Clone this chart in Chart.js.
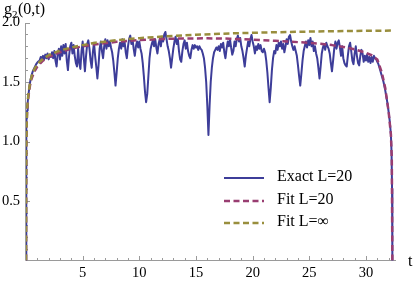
<!DOCTYPE html>
<html>
<head>
<meta charset="utf-8">
<script src="https://cdn.jsdelivr.net/npm/chart.js@4.4.0/dist/chart.umd.min.js"></script>
<style>
  html, body { margin: 0; padding: 0; background: #fff; }
  canvas { display: block; }
</style>
</head>
<body>
<canvas id="grafico" width="416" height="281"></canvas>
<script>
// exact L=20: steep start, noisy middle (t = 1.4 .. 31.0 every 0.1), fall at the end
const tHead = [0, 0.005, 0.01, 0.02, 0.035, 0.06, 0.1, 0.15, 0.2, 0.3, 0.4, 0.5, 0.6, 0.75, 0.9, 1.05, 1.2, 1.3]
const gHead = [0, 0.4, 0.65, 0.85, 1.0, 1.15, 1.26, 1.33, 1.38, 1.46, 1.52, 1.56, 1.59, 1.62, 1.65, 1.67, 1.68, 1.71]

const gMid = [
  1.70, 1.72, 1.69, 1.73, 1.70, 1.74, 1.69, 1.73, 1.71, 1.75,
  1.70, 1.76, 1.68, 1.63, 1.74, 1.78, 1.69, 1.80, 1.72, 1.81,
  1.74, 1.82, 1.68, 1.60, 1.72, 1.80, 1.83, 1.74, 1.81, 1.72,
  1.66, 1.63, 1.78, 1.66, 1.61, 1.76, 1.84, 1.70, 1.59, 1.72,
  1.82, 1.85, 1.78, 1.68, 1.62, 1.75, 1.83, 1.72, 1.63, 1.53,
  1.64, 1.78, 1.84, 1.76, 1.70, 1.80, 1.86, 1.78, 1.85, 1.80,
  1.84, 1.79, 1.75, 1.68, 1.58, 1.47, 1.58, 1.70, 1.78, 1.83,
  1.78, 1.86, 1.80, 1.84, 1.75, 1.70, 1.80, 1.86, 1.89, 1.82,
  1.86, 1.78, 1.72, 1.80, 1.84, 1.79, 1.84, 1.78, 1.74, 1.66,
  1.55, 1.42, 1.33, 1.40, 1.55, 1.70, 1.78, 1.82, 1.85, 1.80,
  1.86, 1.79, 1.74, 1.82, 1.86, 1.80, 1.88, 1.84, 1.90, 1.92,
  1.86, 1.80, 1.76, 1.70, 1.62, 1.70, 1.78, 1.84, 1.88, 1.82,
  1.86, 1.76, 1.69, 1.67, 1.76, 1.82, 1.85, 1.78, 1.83, 1.76,
  1.72, 1.70, 1.77, 1.81, 1.78, 1.81, 1.79, 1.80, 1.77, 1.80,
  1.78, 1.77, 1.74, 1.70, 1.62, 1.50, 1.30, 1.055, 1.30, 1.50,
  1.62, 1.70, 1.75, 1.77, 1.79, 1.77, 1.80, 1.76, 1.82, 1.79,
  1.83, 1.75, 1.70, 1.78, 1.84, 1.80, 1.86, 1.79, 1.73, 1.76,
  1.84, 1.80, 1.86, 1.89, 1.84, 1.87, 1.80, 1.76, 1.70, 1.63,
  1.72, 1.78, 1.84, 1.80, 1.86, 1.895, 1.84, 1.80, 1.74, 1.80,
  1.77, 1.82, 1.78, 1.81, 1.76, 1.75, 1.78, 1.75, 1.68, 1.58,
  1.45, 1.33, 1.45, 1.60, 1.70, 1.76, 1.74, 1.81, 1.77, 1.83,
  1.80, 1.84, 1.78, 1.82, 1.75, 1.80, 1.86, 1.82, 1.88, 1.895,
  1.84, 1.80, 1.77, 1.80, 1.76, 1.72, 1.64, 1.55, 1.47, 1.57,
  1.68, 1.76, 1.80, 1.84, 1.79, 1.85, 1.81, 1.87, 1.80, 1.84,
  1.76, 1.80, 1.74, 1.70, 1.62, 1.53, 1.63, 1.74, 1.79, 1.82,
  1.77, 1.83, 1.80, 1.78, 1.74, 1.66, 1.59, 1.68, 1.78, 1.84,
  1.78, 1.83, 1.85, 1.79, 1.72, 1.80, 1.70, 1.66, 1.64, 1.63,
  1.72, 1.80, 1.83, 1.76, 1.68, 1.65, 1.74, 1.80, 1.72, 1.66,
  1.64, 1.72, 1.77, 1.74, 1.67, 1.72, 1.68, 1.73, 1.67, 1.71,
  1.66, 1.71, 1.67, 1.72, 1.70, 1.69, 1.67
]

const tTail = [31.1, 31.25, 31.4, 31.55, 31.7, 31.85, 32.0, 32.1, 32.2, 32.26, 32.3, 32.33]
const gTail = [1.65, 1.60, 1.55, 1.50, 1.43, 1.35, 1.25, 1.17, 1.06, 0.90, 0.60, 0]

const tFit20 = [0, 0.01, 0.03, 0.06, 0.1, 0.2, 0.35, 0.5, 0.75, 1, 1.5, 2, 3, 4, 5, 6, 8, 10, 12, 14, 16, 18, 20, 22, 24, 26, 27, 28, 29, 30, 30.5, 31, 31.4, 31.7, 32.0, 32.2, 32.28, 32.33]
const gFit20 = [0, 0.6, 0.95, 1.14, 1.25, 1.37, 1.47, 1.53, 1.59, 1.63, 1.68, 1.71, 1.75, 1.78, 1.80, 1.815, 1.838, 1.852, 1.861, 1.866, 1.867, 1.864, 1.856, 1.846, 1.835, 1.822, 1.81, 1.795, 1.775, 1.745, 1.725, 1.69, 1.58, 1.45, 1.25, 1.06, 0.85, 0]

const tFitInf = [0, 0.01, 0.03, 0.06, 0.1, 0.2, 0.35, 0.5, 0.75, 1, 1.5, 2, 3, 4, 5, 6, 8, 10, 12, 15, 18, 21, 24, 27, 30, 32.4]
const gFitInf = [0, 0.62, 0.97, 1.16, 1.27, 1.39, 1.49, 1.55, 1.61, 1.65, 1.695, 1.725, 1.765, 1.79, 1.81, 1.828, 1.852, 1.868, 1.882, 1.897, 1.908, 1.916, 1.922, 1.927, 1.93, 1.932]

const etiquetas = ["Exact L=20", "Fit L=20", "Fit L=\u221e"]
const colores = ["#3d3d99", "#993d71", "#998e3d"]

const tMid = gMid.map((g, i) => Math.round((1.4 + i * 0.1) * 100) / 100)
const tExact = tHead.concat(tMid, tTail)
const gExact = gHead.concat(gMid, gTail)

function puntos(ts, gs) {
  return ts.map((t, i) => ({x: t, y: gs[i]}))
}

const serif = "'Liberation Serif', 'DejaVu Serif', serif"

const ejes = {
  id: "ejes",
  beforeDatasetsDraw(chart) {
    const {ctx, scales: {x, y}} = chart
    const x0 = Math.round(x.getPixelForValue(0)) - 0.5
    const y0 = Math.round(y.getPixelForValue(0)) - 0.5
    ctx.save()
    ctx.strokeStyle = "#9a9a9a"
    ctx.lineWidth = 1
    ctx.beginPath()
    ctx.moveTo(x0, y0)
    ctx.lineTo(x.right, y0)
    ctx.moveTo(x0, y0)
    ctx.lineTo(x0, Math.round(y.getPixelForValue(2)))
    for (let t = 1; t <= 32; t++) {
      const px = Math.round(x.getPixelForValue(t)) + 0.5
      const len = t % 5 === 0 ? 4.5 : 2.5
      ctx.moveTo(px, y0)
      ctx.lineTo(px, y0 - len)
    }
    for (let k = 1; k <= 20; k++) {
      const py = Math.round(y.getPixelForValue(k / 10)) + 0.5
      const len = k % 5 === 0 ? 4.5 : 2.5
      ctx.moveTo(x0, py)
      ctx.lineTo(x0 + len, py)
    }
    ctx.stroke()
    ctx.restore()
  },
  afterDraw(chart) {
    const ctx = chart.ctx
    ctx.save()
    ctx.fillStyle = "#000"
    ctx.textBaseline = "alphabetic"
    // axis labels
    ctx.font = "16px " + serif
    ctx.fillText("g", 4, 14)
    let w = ctx.measureText("g").width
    ctx.font = "11px " + serif
    ctx.fillText("2", 4 + w, 18)
    w += ctx.measureText("2").width
    ctx.font = "16px " + serif
    ctx.fillText("(0,t)", 4 + w + 0.5, 14)
    ctx.fillText("t", 408, 266)

    // legend
    const filas = [178, 201, 223]
    chart.data.datasets.forEach((ds, i) => {
      const yl = filas[i]
      ctx.beginPath()
      ctx.strokeStyle = ds.borderColor
      ctx.lineWidth = ds.borderWidth
      ctx.setLineDash(ds.borderDash || [])
      ctx.moveTo(224, yl)
      ctx.lineTo(264, yl)
      ctx.stroke()
      ctx.setLineDash([])
      ctx.fillText(ds.label, 277, yl + 3)
    })
    ctx.restore()
  }
}

const datasets = [
  {label: etiquetas[0], data: puntos(tExact, gExact), borderColor: colores[0], borderWidth: 2, order: 3},
  {label: etiquetas[1], data: puntos(tFit20, gFit20), borderColor: colores[1], borderWidth: 2.5, borderDash: [6, 3.5], order: 2},
  {label: etiquetas[2], data: puntos(tFitInf, gFitInf), borderColor: colores[2], borderWidth: 2.5, borderDash: [6, 3.5], order: 1}
]
datasets.forEach(ds => {
  ds.pointRadius = 0
  ds.fill = false
  ds.tension = 0
  ds.borderJoinStyle = "round"
})

new Chart(document.getElementById("grafico").getContext("2d"), {
  type: "line",
  data: {datasets},
  options: {
    responsive: false,
    animation: false,
    devicePixelRatio: 1,
    layout: {padding: {left: 0, top: 22.5, right: 20, bottom: 0}},
    plugins: {legend: {display: false}, tooltip: {enabled: false}},
    scales: {
      x: {
        type: "linear", min: 0, max: 32.65,
        grid: {display: false, drawTicks: false},
        border: {display: false},
        ticks: {
          stepSize: 5, includeBounds: false, autoSkip: false, maxRotation: 0, padding: 4,
          color: "#000", font: {family: serif, size: 14.5},
          callback: v => v === 0 ? "" : v
        },
        afterFit: s => { s.height = 20.5 }
      },
      y: {
        type: "linear", min: 0, max: 2,
        grid: {display: false, drawTicks: false},
        border: {display: false},
        ticks: {
          stepSize: 0.5, padding: 6,
          color: "#000", font: {family: serif, size: 14.5},
          callback: v => v === 0 ? "" : v.toFixed(1)
        },
        afterFit: s => { s.width = 26 }
      }
    }
  },
  plugins: [ejes]
})
</script>
</body>
</html>
